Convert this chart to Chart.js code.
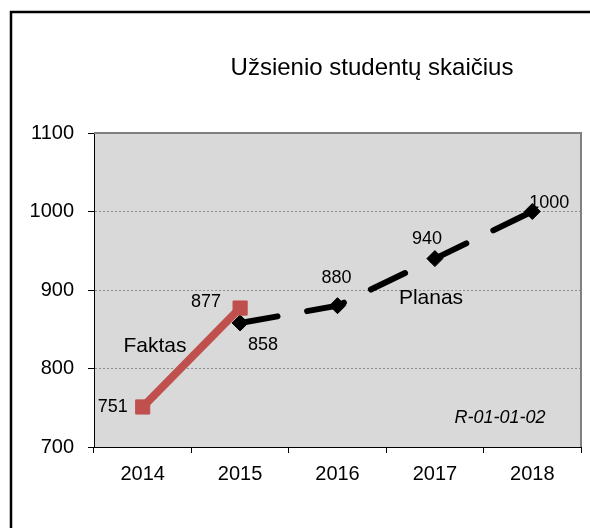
<!DOCTYPE html>
<html>
<head>
<meta charset="utf-8">
<script src="https://cdn.jsdelivr.net/npm/chart.js@4"></script>
<style>
  html, body { margin: 0; padding: 0; background: #fff; }
  canvas { display: block; }
</style>
</head>
<body>
<canvas id="chart" width="590" height="528"></canvas>
<script>
const years = ['2014', '2015', '2016', '2017', '2018'];
const faktas = [751, 877, null, null, null];
const planas = [null, 858, 880, 940, 1000];
const yTicks = [700, 800, 900, 1000, 1100];

const FONT = '"Liberation Sans", Arial, sans-serif';

// label offsets from each point (dx, dy), keyed by dataset label
const labelOffsets = {
    Faktas: [[-30, 0], [-34, -6]],
    Planas: [null, [23, 22], [-1, -28], [-8, -20], [17, -8]]
};

const decorPlugin = {
    id: 'decor',
    beforeDraw(chart) {
        const { ctx, chartArea: a } = chart;
        ctx.save();
        ctx.fillStyle = '#d9d9d9';
        ctx.fillRect(a.left, a.top, a.right - a.left, a.bottom - a.top);
        ctx.restore();
    },
    beforeDatasetsDraw(chart) {
        const { ctx, chartArea: a } = chart;
        ctx.save();
        ctx.strokeStyle = '#808080';
        ctx.lineWidth = 2;
        ctx.beginPath();
        ctx.moveTo(a.left, a.top);
        ctx.lineTo(a.right, a.top);
        ctx.lineTo(a.right, a.bottom);
        ctx.stroke();
        ctx.restore();
    },
    afterDatasetsDraw(chart) {
        const { ctx } = chart;
        ctx.save();
        ctx.fillStyle = '#000';
        ctx.textAlign = 'center';
        ctx.textBaseline = 'middle';
        ctx.font = '18px ' + FONT;
        chart.data.datasets.forEach((ds, di) => {
            const meta = chart.getDatasetMeta(di);
            const offs = labelOffsets[ds.label];
            meta.data.forEach((pt, i) => {
                const off = offs[i];
                if (ds.data[i] == null || !off) return;
                ctx.fillText(String(ds.data[i]), pt.x + off[0], pt.y + off[1]);
            });
        });
        ctx.font = '21px ' + FONT;
        ctx.fillText('Faktas', 155, 346);
        ctx.fillText('Planas', 431, 298);
        ctx.font = 'italic 18px ' + FONT;
        ctx.fillText('R-01-01-02', 500, 418);
        ctx.font = '24px ' + FONT;
        ctx.fillText('Užsienio studentų skaičius', 372, 68);
        ctx.strokeStyle = '#000';
        ctx.lineWidth = 2.5;
        ctx.strokeRect(11, 12, 620, 560);
        ctx.restore();
    }
};

new Chart(document.getElementById('chart'), {
    type: 'line',
    data: {
        labels: years,
        datasets: [
            {
                label: 'Planas',
                data: planas,
                borderColor: '#000',
                backgroundColor: '#000',
                borderWidth: 6,
                borderDash: [38, 30],
                borderCapStyle: 'round',
                pointStyle: 'rectRot',
                pointRadius: 8,
                pointBorderWidth: 1,
                tension: 0,
                order: 2
            },
            {
                label: 'Faktas',
                data: faktas,
                borderColor: '#c0504d',
                backgroundColor: '#c0504d',
                borderWidth: 8,
                pointStyle: 'rect',
                pointRadius: 10,
                pointBorderWidth: 1,
                tension: 0,
                order: 1
            }
        ]
    },
    options: {
        responsive: false,
        animation: false,
        devicePixelRatio: 1,
        layout: { autoPadding: false, padding: { left: 0, top: 133, right: 9, bottom: 0 } },
        plugins: {
            legend: { display: false },
            title: { display: false },
            tooltip: { enabled: false }
        },
        scales: {
            x: {
                offset: true,
                grid: {
                    offset: true,
                    drawOnChartArea: false,
                    tickLength: 6,
                    tickColor: '#000'
                },
                border: { color: '#000', width: 1 },
                ticks: { color: '#000', font: { family: FONT, size: 20 }, padding: 9 },
                afterFit(scale) { scale.height = 81; }
            },
            y: {
                min: 700,
                max: 1100,
                afterBuildTicks(scale) { scale.ticks = yTicks.map(v => ({ value: v })); },
                grid: {
                    color: '#8c8c8c',
                    lineWidth: 1,
                    tickLength: 6,
                    tickColor: '#000',
                    tickBorderDash: []
                },
                border: { color: '#000', width: 1, dash: [2, 2] },
                ticks: {
                    color: '#000',
                    font: { family: FONT, size: 20 },
                    padding: 14,
                    callback: v => String(v)
                },
                afterFit(scale) { scale.width = 94; }
            }
        }
    },
    plugins: [decorPlugin]
});
</script>
</body>
</html>
